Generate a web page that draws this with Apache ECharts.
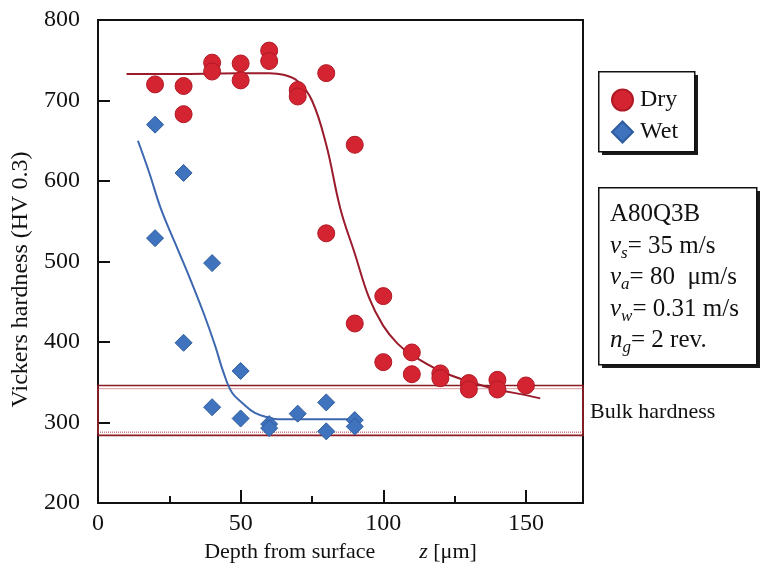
<!DOCTYPE html>
<html>
<head>
<meta charset="utf-8">
<script src="https://cdn.jsdelivr.net/npm/echarts@6/dist/echarts.min.js"></script>
<style>
  html, body { margin: 0; padding: 0; background: #fff; }
  #chart { width: 765px; height: 569px; }
</style>
</head>
<body>
<div id="chart"></div>
<script>
var FONT = '"Liberation Serif", "Times New Roman", serif';

// measured points, [depth z (um), HV 0.3]
var dryPoints = [[20,720],[30,718],[30,683],[40,747],[40,736],[50,746],[50,725],
  [60,762],[60,749],[70,713],[70,705],[80,734],[80,535],[90,645],[90,423],
  [100,457],[100,375],[110,387],[110,360],[120,361],[120,355],[130,349],[130,341],
  [140,353],[140,341],[150,346]];
var wetPoints = [[20,670],[20,529],[30,610],[30,399],[40,498],[40,319],[50,364],[50,305],
  [60,298],[60,293],[70,311],[80,325],[80,289],[90,303],[90,295]];

// fitted curves
var dryCurve = [[10,733],[30,733],[50,734],[60,734],[65,732],[70,724],[75,700],[80,645],
  [85,565],[90,510],[95,455],[100,420],[105,398],[110,384],[120,364],[130,351],
  [140,341],[150,334],[155,330]];
var wetCurve = [[14,650],[18,610],[22,566],[27,523],[32,481],[37,436],[41,396],[44,362],
  [47,337],[51,323],[55,312],[60,306],[63,304],[75,304],[88,304]];

var bulkRange = [285, 345];
var xMajor = [0, 50, 100, 150];
var xMinor = [25, 75, 125];
var paramLines = ['A80Q3B', '{i|v}{s|s}= 35 m/s', '{i|v}{s|a}= 80  \u03bcm/s',
  '{i|v}{s|w}= 0.31 m/s', '{i|n}{s|g}= 2 rev.'];

var axisText = { color: '#111', fontFamily: FONT, fontSize: 24 };

// white box with a solid drop shadow
function shadowBox(x, y, w, h) {
  return [{
    type: 'rect', left: x + 4, top: y + 4, z: 1,
    shape: { width: w, height: h }, style: { fill: '#1a1a1a' }
  }, {
    type: 'rect', left: x, top: y, z: 2,
    shape: { width: w, height: h }, style: { fill: '#fff', stroke: '#111', lineWidth: 1.5 }
  }];
}

var option = {
  animation: false,
  backgroundColor: '#fff',
  grid: { left: 98, top: 20, right: 182, bottom: 66, show: true,
    borderColor: '#111', borderWidth: 2 },
  legend: {
    orient: 'vertical', left: 611, top: 88, z: 5,
    data: [{ name: 'Dry', icon: 'circle' }, { name: 'Wet', icon: 'diamond' }],
    itemWidth: 21, itemHeight: 21, itemGap: 8, padding: 0,
    textStyle: { color: '#111', fontFamily: FONT, fontSize: 24, padding: [0, 0, 0, 2] }
  },
  xAxis: [{
    type: 'value', min: 0, max: 170,
    name: 'Depth from surface        {i|z} [\u03bcm]',
    nameLocation: 'middle', nameGap: 37,
    nameTextStyle: { color: '#111', fontFamily: FONT, fontSize: 22,
      rich: { i: { fontStyle: 'italic', fontFamily: FONT, fontSize: 22, color: '#111' } } },
    axisLine: { lineStyle: { color: '#111', width: 2 } },
    axisTick: { inside: true, length: 13, customValues: xMajor, lineStyle: { color: '#111', width: 2 } },
    axisLabel: Object.assign({ margin: 9, customValues: xMajor }, axisText),
    splitLine: { show: false }
  }, {
    type: 'value', min: 0, max: 170, position: 'bottom', gridIndex: 0,
    axisLine: { show: false },
    axisTick: { inside: true, length: 7, customValues: xMinor, lineStyle: { color: '#111', width: 2 } },
    axisLabel: { show: false },
    splitLine: { show: false }
  }],
  yAxis: {
    type: 'value', min: 200, max: 800, interval: 100,
    name: 'Vickers hardness (HV 0.3)',
    nameLocation: 'middle', nameGap: 60,
    nameTextStyle: { color: '#111', fontFamily: FONT, fontSize: 24, padding: [0, 36, 0, 0] },
    axisLine: { lineStyle: { color: '#111', width: 2 } },
    axisTick: { inside: true, length: 12, lineStyle: { color: '#111', width: 2 } },
    axisLabel: Object.assign({ margin: 18 }, axisText),
    splitLine: { show: false }
  },
  graphic: shadowBox(598, 71, 96, 80).concat(shadowBox(598, 187, 158, 177)).concat([{
    type: 'text', left: 610, top: 199, z: 11,
    style: {
      text: paramLines.join('\n'),
      fill: '#111', font: '25px ' + FONT, lineHeight: 31.5,
      rich: {
        i: { fontStyle: 'italic', fontFamily: FONT, fontSize: 25, lineHeight: 31.5, fill: '#111' },
        s: { fontStyle: 'italic', fontFamily: FONT, fontSize: 17, lineHeight: 31.5,
          verticalAlign: 'bottom', fill: '#111' }
      }
    }
  }, {
    type: 'text', left: 590, top: 401, z: 11,
    style: { text: 'Bulk hardness', fill: '#111', font: '22px ' + FONT }
  }]),
  series: [{
    name: 'Dry fit', type: 'line', data: dryCurve, smooth: 0.4, showSymbol: false,
    lineStyle: { color: '#9a1b2b', width: 2 }, z: 3,
    markArea: {
      silent: true,
      data: [[{ xAxis: 0, yAxis: bulkRange[0] - 1 }, { xAxis: 170, yAxis: bulkRange[1] + 1 }]],
      itemStyle: { color: 'rgba(0,0,0,0)', borderColor: '#8b1a22', borderWidth: 1.6 }
    }
  }, {
    name: 'Dotted', type: 'line', data: [], showSymbol: false,
    markArea: {
      silent: true,
      data: [[{ xAxis: 0, yAxis: bulkRange[0] + 3 }, { xAxis: 170, yAxis: bulkRange[1] - 3 }]],
      itemStyle: { color: 'rgba(0,0,0,0)', borderColor: '#b0343c', borderWidth: 1, borderType: 'dotted' }
    }
  }, {
    name: 'Wet fit', type: 'line', data: wetCurve, smooth: 0.4, showSymbol: false,
    lineStyle: { color: '#3d68b0', width: 2 }, z: 3
  }, {
    name: 'Dry', type: 'scatter', data: dryPoints, symbol: 'circle', symbolSize: 17, z: 4,
    itemStyle: { color: '#d42331', borderColor: '#b01a26', borderWidth: 1, opacity: 1 }
  }, {
    name: 'Wet', type: 'scatter', data: wetPoints, symbol: 'diamond', symbolSize: 17, z: 4,
    itemStyle: { color: '#3f73bd', borderColor: '#2f5c9e', borderWidth: 1, opacity: 1 }
  }]
};

var myChart = echarts.init(document.getElementById('chart'));
myChart.setOption(option);
</script>
</body>
</html>
